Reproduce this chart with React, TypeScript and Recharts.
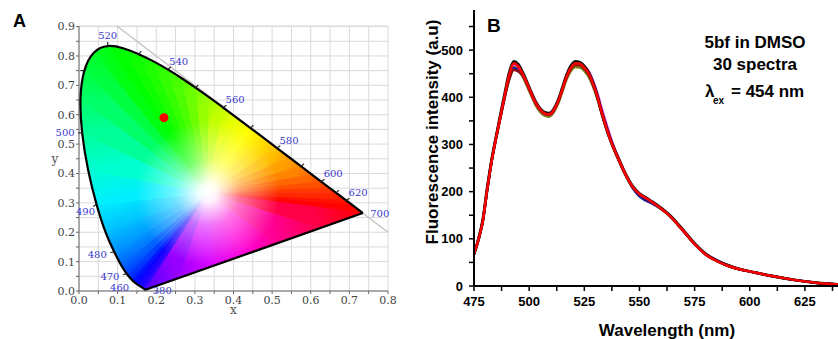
import React from 'react';
import { ScatterChart, Scatter, XAxis, YAxis, CartesianGrid, LineChart, Line } from 'recharts';

// ---------- panel A: CIE 1931 chromaticity diagram ----------
const locusWavelengths = [380, 400, 420, 430, 440, 450, 460, 465, 470, 475, 480, 485, 490, 495, 500, 505, 510, 515, 520, 525, 530, 535, 540, 545, 550, 555, 560, 565, 570, 575, 580, 585, 590, 595, 600, 605, 610, 620, 630, 640, 650, 660, 680, 700];
const locusX = [0.1741, 0.1733, 0.1714, 0.1689, 0.1644, 0.1566, 0.144, 0.1355, 0.1241, 0.1096, 0.0913, 0.0687, 0.0454, 0.0235, 0.0082, 0.0039, 0.0139, 0.0389, 0.0743, 0.1142, 0.1547, 0.1929, 0.2296, 0.2658, 0.3016, 0.3373, 0.3731, 0.4087, 0.4441, 0.4788, 0.5125, 0.5448, 0.5752, 0.6029, 0.627, 0.6482, 0.6658, 0.6915, 0.7079, 0.719, 0.726, 0.73, 0.7334, 0.7347];
const locusY = [0.005, 0.0048, 0.0051, 0.0069, 0.0109, 0.0177, 0.0297, 0.0399, 0.0578, 0.0868, 0.1327, 0.2007, 0.295, 0.4127, 0.5384, 0.6548, 0.7502, 0.812, 0.8338, 0.8262, 0.8059, 0.7816, 0.7543, 0.7243, 0.6923, 0.6589, 0.6245, 0.5896, 0.5547, 0.5202, 0.4866, 0.4544, 0.4242, 0.3965, 0.3725, 0.3514, 0.334, 0.3083, 0.292, 0.2809, 0.274, 0.27, 0.2666, 0.2653];
// points on the purple line, 700 nm back to 380 nm
const purpleX = [0.6226, 0.5105, 0.4264, 0.3423, 0.2582];
const purpleY = [0.2132, 0.1612, 0.1221, 0.0831, 0.044];
const whitePoint = { x: 0.3333, y: 0.3333 };
const samplePoint = { x: 0.22, y: 0.59 };
const diagonalX = [0.098, 0.8];
const diagonalY = [0.902, 0.2];
const locusLabels = [380, 460, 470, 480, 490, 500, 520, 540, 560, 580, 600, 620, 700];
const locusTicks = [470, 480, 490, 500, 510, 520, 530, 540, 550, 560, 570, 580, 590, 600, 610, 620];
const cieXTicks = [0, 0.05, 0.1, 0.15, 0.2, 0.25, 0.3, 0.35, 0.4, 0.45, 0.5, 0.55, 0.6, 0.65, 0.7, 0.75, 0.8];
const cieYTicks = [0, 0.05, 0.1, 0.15, 0.2, 0.25, 0.3, 0.35, 0.4, 0.45, 0.5, 0.55, 0.6, 0.65, 0.7, 0.75, 0.8, 0.85, 0.9];

// colours for the fill (same order as locus, then purple line)
const locusColors = ['#5000ff', '#4800ff', '#4000ff', '#3400ff', '#2400ff', '#1400ff', '#0008ff', '#0020ff', '#0040ff', '#0064ff', '#0090ff', '#00c0ff', '#00eeff', '#00ffd0', '#00ff98', '#00ff68', '#00ff40', '#00ff28', '#00ff10', '#00ff00', '#10ff00', '#20ff00', '#34ff00', '#4cff00', '#6cff00', '#98ff00', '#c4ff00', '#e8ff00', '#ffff00', '#ffe000', '#ffc000', '#ffa000', '#ff8400', '#ff6800', '#ff5000', '#ff3800', '#ff2800', '#ff1000', '#ff0000', '#ff0000', '#ff0000', '#ff0000', '#ff0000', '#ff0000'];
const purpleColors = ['#ff0048', '#ff0098', '#ff00d8', '#d800ff', '#9800ff'];

const labelOffsets: Record<number, [number, number]> = {
  380: [16, 1], 460: [-15, 5], 470: [-17, 2], 480: [-17, 2], 490: [-11, 7], 500: [-17, 0],
  520: [0, -11], 540: [11, -8], 560: [12, -8], 580: [12, -8], 600: [12, -8], 620: [12, -8], 700: [17, 0],
};
const tickDirs: Record<number, [number, number]> = { 510: [-1, 0], 530: [0.6, -0.8] };

const locusPoints = locusWavelengths.map((wl, i) => ({ wl, x: locusX[i], y: locusY[i] }));
const ringPoints = [...locusPoints, ...purpleX.map((x, i) => ({ wl: 0, x, y: purpleY[i] }))];
const ringColors = [...locusColors, ...purpleColors];
const fillData = [whitePoint, ...ringPoints];
const purpleLineData = [locusPoints[locusPoints.length - 1], locusPoints[0]];
const diagonalData = diagonalX.map((x, i) => ({ x, y: diagonalY[i] }));
const markerData = locusPoints.filter((p) => locusTicks.includes(p.wl) || locusLabels.includes(p.wl));

const serif = 'DejaVu Serif, Liberation Serif, serif';
const sans = 'Liberation Sans, Arial, sans-serif';

const emptyShape = () => <g />;

// wedges from the white point; colour runs along the locus, white fades out radially
const renderGamut = (props: any) => {
  const pts = props.points as { x: number; y: number }[];
  if (!pts || pts.length < 3) return <g />;
  const w = pts[0];
  const ring = pts.slice(1);
  const n = ring.length;
  return (
    <g>
      <defs>
        {ring.map((p, i) => {
          const j = (i + 1) % n;
          const q = ring[j];
          return (
            <linearGradient key={i} id={`cie-w-${i}`} gradientUnits="userSpaceOnUse"
              x1={p.x} y1={p.y} x2={q.x} y2={q.y}>
              <stop offset="0" stopColor={ringColors[i]} />
              <stop offset="1" stopColor={ringColors[j]} />
            </linearGradient>
          );
        })}
        <radialGradient id="cie-white" gradientUnits="userSpaceOnUse" cx={w.x} cy={w.y} r={72}>
          <stop offset="0" stopColor="#fff" stopOpacity={1} />
          <stop offset="0.12" stopColor="#fff" stopOpacity={0.95} />
          <stop offset="0.45" stopColor="#fff" stopOpacity={0.45} />
          <stop offset="1" stopColor="#fff" stopOpacity={0} />
        </radialGradient>
      </defs>
      {ring.map((p, i) => {
        const q = ring[(i + 1) % n];
        return (
          <polygon key={i} points={`${w.x},${w.y} ${p.x},${p.y} ${q.x},${q.y}`}
            fill={`url(#cie-w-${i})`} stroke={`url(#cie-w-${i})`} strokeWidth={0.8} strokeLinejoin="round" />
        );
      })}
      <polygon points={ring.map((p) => `${p.x},${p.y}`).join(' ')} fill="url(#cie-white)" />
    </g>
  );
};

const LocusMarker = (props: any) => {
  const { cx, cy, payload } = props;
  const wl = payload.wl;
  const off = labelOffsets[wl];
  let dir = tickDirs[wl] || [0.7, -0.7];
  if (off) {
    const len = Math.hypot(off[0], off[1]);
    dir = [off[0] / len, off[1] / len];
  }
  return (
    <g>
      {locusTicks.includes(wl) && (
        <line x1={cx - dir[0]} y1={cy - dir[1]} x2={cx + dir[0] * 4} y2={cy + dir[1] * 4} stroke="#222" strokeWidth={1.2} />
      )}
      {off && (
        <text x={cx + off[0]} y={cy + off[1]} dy="0.35em" textAnchor="middle" fontFamily={serif} fontSize={10} fill="#3a3acc">
          {wl}
        </text>
      )}
    </g>
  );
};

const CieXTick = ({ x, y, payload }: any) => {
  const v = payload.value;
  if (Math.round(v * 100) % 10 !== 0) return <g />;
  return (
    <text x={x} y={y} dy="0.71em" textAnchor="middle" fontFamily={serif} fontSize={11} fill="#444">
      {v.toFixed(1)}
    </text>
  );
};

const CieYTick = ({ x, y, payload }: any) => {
  const v = payload.value;
  if (Math.round(v * 100) % 10 !== 0) return <g />;
  return (
    <text x={x} y={y} dy="0.355em" textAnchor="end" fontFamily={serif} fontSize={11} fill="#444">
      {v.toFixed(1)}
    </text>
  );
};

function CiePanel() {
  return (
    <ScatterChart width={420} height={339} margin={{ top: 26, right: 32, bottom: 18, left: 19 }}>
      <CartesianGrid stroke="#dadada" strokeWidth={1} />
      <XAxis type="number" dataKey="x" domain={[0, 0.8]} ticks={cieXTicks} interval={0}
        axisLine={{ stroke: '#666' }} tickLine={{ stroke: '#666' }} tickSize={3} tickMargin={2} tick={<CieXTick />}
        label={{ content: ({ viewBox }: any) => (
          <text x={viewBox.x + viewBox.width / 2} y={viewBox.y + 23} textAnchor="middle" fontFamily={serif} fontSize={12} fill="#555">x</text>
        ) }} />
      <YAxis type="number" dataKey="y" domain={[0, 0.9]} ticks={cieYTicks} interval={0} width={60}
        axisLine={{ stroke: '#666' }} tickLine={{ stroke: '#666' }} tickSize={3} tickMargin={1} tick={<CieYTick />}
        label={{ content: ({ viewBox }: any) => (
          <text x={viewBox.x + viewBox.width - 24} y={viewBox.y + viewBox.height / 2} dy="0.35em" textAnchor="middle" fontFamily={serif} fontSize={12} fill="#555">y</text>
        ) }} />
      <Scatter data={diagonalData} isAnimationActive={false} shape={emptyShape}
        line={{ stroke: '#c4c4c4', strokeWidth: 1.5 }} />
      <Scatter data={fillData} isAnimationActive={false} shape={emptyShape} line={renderGamut} />
      <Scatter data={locusPoints} isAnimationActive={false} shape={emptyShape} lineJointType="natural"
        line={{ stroke: '#000', strokeWidth: 2.2 }} />
      <Scatter data={purpleLineData} isAnimationActive={false} shape={emptyShape}
        line={{ stroke: '#000', strokeWidth: 2.2 }} />
      <Scatter data={markerData} isAnimationActive={false} shape={<LocusMarker />} />
      <Scatter data={[samplePoint]} isAnimationActive={false}
        shape={(p: any) => <circle cx={p.cx} cy={p.cy} r={4.5} fill="#ff0000" />} />
    </ScatterChart>
  );
}

// ---------- panel B: fluorescence spectra ----------
const wavelengths = [475, 477, 479, 481, 483, 485, 487, 489, 491, 493, 495, 497, 499, 501, 503, 505, 507, 509, 511, 513, 515, 517, 519, 521, 523, 525, 527, 529, 531, 533, 535, 537, 539, 541, 543, 545, 547, 550, 553, 556, 559, 562, 565, 568, 571, 575, 580, 585, 590, 595, 600, 610, 620, 630, 640];
const spectrumRed = [68, 98, 138, 205, 265, 314, 360, 406, 448, 472, 466, 450, 430, 408, 388, 374, 366, 364, 372, 390, 416, 444, 463, 472, 471, 463, 450, 428, 400, 366, 335, 308, 285, 264, 243, 225, 210, 195, 186, 177, 167, 156, 143, 127, 111, 89, 67, 53, 43, 36, 31, 21, 13, 7, 3];
const spectrumBlack = [68, 99, 140, 207, 267, 316, 363, 409, 452, 476, 470, 453, 432, 410, 390, 376, 368, 366, 374, 392, 419, 447, 467, 476, 474, 466, 452, 430, 401, 367, 336, 309, 286, 265, 244, 226, 211, 196, 187, 178, 168, 157, 144, 128, 112, 90, 68, 54, 44, 36, 31, 21, 13, 7, 3];
const spectrumNavy = [68, 98, 139, 206, 266, 315, 361, 405, 440, 462, 458, 447, 430, 408, 388, 374, 366, 364, 372, 390, 416, 445, 464, 470, 469, 462, 449, 427, 399, 365, 334, 307, 284, 263, 242, 224, 207, 190, 181, 174, 166, 156, 143, 127, 111, 89, 67, 54, 43, 36, 31, 21, 13, 7, 3];
const spectrumMagenta = [68, 98, 138, 205, 265, 314, 359, 405, 447, 470, 465, 449, 429, 407, 387, 373, 365, 363, 371, 390, 417, 445, 464, 472, 472, 466, 455, 434, 407, 374, 343, 314, 288, 265, 244, 226, 210, 195, 186, 177, 167, 156, 143, 127, 111, 89, 68, 55, 44, 36, 31, 21, 13, 7, 3];
const spectrumOlive = [67, 97, 137, 204, 263, 311, 356, 401, 442, 464, 459, 444, 424, 403, 383, 369, 361, 359, 367, 385, 411, 438, 456, 464, 463, 456, 443, 422, 395, 362, 332, 306, 283, 262, 241, 223, 208, 194, 185, 176, 166, 155, 142, 126, 110, 88, 67, 53, 43, 36, 31, 21, 13, 7, 3];
const spectrumDarkRed = [68, 98, 138, 205, 265, 314, 358, 401, 438, 458, 455, 447, 429, 407, 387, 373, 365, 363, 371, 389, 415, 443, 461, 469, 468, 461, 448, 427, 399, 365, 334, 307, 284, 263, 242, 224, 209, 195, 186, 177, 167, 156, 143, 127, 111, 89, 67, 53, 43, 36, 31, 21, 13, 7, 3];
const specXTicks = [475, 487.5, 500, 512.5, 525, 537.5, 550, 562.5, 575, 587.5, 600, 612.5, 625, 637.5];
const specXMajor = [475, 500, 525, 550, 575, 600, 625];
const specYTicks = [0, 50, 100, 150, 200, 250, 300, 350, 400, 450, 500, 550];

const spectraData = wavelengths.map((wl, i) => ({
  wl,
  red: spectrumRed[i],
  black: spectrumBlack[i],
  navy: spectrumNavy[i],
  magenta: spectrumMagenta[i],
  olive: spectrumOlive[i],
  darkred: spectrumDarkRed[i],
}));

const seriesStyle = [
  { key: 'olive', color: '#7a7a10', width: 2.5 },
  { key: 'navy', color: '#1a1a90', width: 2.5 },
  { key: 'magenta', color: '#e020e0', width: 2.5 },
  { key: 'darkred', color: '#8a1010', width: 2.5 },
  { key: 'black', color: '#111111', width: 3 },
  { key: 'red', color: '#ff0000', width: 2.5 },
];

const tickFont = { fontFamily: sans, fontSize: 13, fontWeight: 700, fill: '#000' };

function SpectraPanel() {
  return (
    <LineChart width={418} height={339} data={spectraData} margin={{ top: 10, right: 0, bottom: 8, left: 0 }}>
      <XAxis xAxisId="top" orientation="top" type="number" domain={[475, 640]} ticks={specXMajor} height={0}
        axisLine={false} tick={false} tickSize={2} tickLine={{ stroke: '#aaa' }} />
      <XAxis type="number" dataKey="wl" domain={[475, 640]} ticks={specXTicks} interval={0} height={45}
        allowDataOverflow axisLine={{ stroke: '#000', strokeWidth: 2 }} tickLine={{ stroke: '#000', strokeWidth: 1.5 }}
        tickSize={5} tickMargin={6} tick={tickFont}
        tickFormatter={(v: number) => (specXMajor.includes(v) ? String(v) : '')}
        label={{ content: ({ viewBox }: any) => (
          <text x={viewBox.x + viewBox.width / 2 + 11} y={viewBox.y + 50} textAnchor="middle"
            fontFamily={sans} fontSize={17} fontWeight={700} fill="#000">Wavelength (nm)</text>
        ) }} />
      <YAxis type="number" domain={[0, 585]} ticks={specYTicks} interval={0} width={54}
        axisLine={{ stroke: '#000', strokeWidth: 2 }} tickLine={{ stroke: '#000', strokeWidth: 1.5 }}
        tickSize={5} tickMargin={6} tick={tickFont}
        tickFormatter={(v: number) => (v % 100 === 0 ? String(v) : '')}
        label={{ content: ({ viewBox }: any) => (
          <text transform={`translate(${viewBox.x + 12}, ${viewBox.y + viewBox.height / 2 - 16}) rotate(-90)`}
            dy="0.35em" textAnchor="middle" fontFamily={sans} fontSize={17} fontWeight={700} fill="#000">
            Fluorescence intensity (a.u)
          </text>
        ) }} />
      {seriesStyle.map((s) => (
        <Line key={s.key} type="monotone" dataKey={s.key} stroke={s.color} strokeWidth={s.width}
          dot={false} activeDot={false} isAnimationActive={false} />
      ))}
    </LineChart>
  );
}

export default function App() {
  return (
    <div style={{ position: 'absolute', left: 0, top: 0, width: 838, height: 339, background: '#fff', overflow: 'hidden' }}>
      <div style={{ position: 'absolute', left: 0, top: 0 }}>
        <CiePanel />
      </div>
      <div style={{ position: 'absolute', left: 420, top: 0 }}>
        <SpectraPanel />
      </div>
      <svg width={838} height={339} style={{ position: 'absolute', left: 0, top: 0, pointerEvents: 'none' }}>
        <text x={13} y={27} fontFamily={sans} fontSize={18} fontWeight={700} fill="#000">A</text>
        <text x={487} y={32} fontFamily={sans} fontSize={19} fontWeight={700} fill="#000">B</text>
        <g fontFamily={sans} fontSize={17} fontWeight={700} fill="#000">
          <text x={755} y={48} textAnchor="middle">5bf in DMSO</text>
          <text x={755} y={70} textAnchor="middle">30 spectra</text>
          <text x={705} y={97}>λ</text>
          <text x={713} y={104} fontSize={10}>ex</text>
          <text x={731} y={97}>= 454 nm</text>
        </g>
      </svg>
    </div>
  );
}
